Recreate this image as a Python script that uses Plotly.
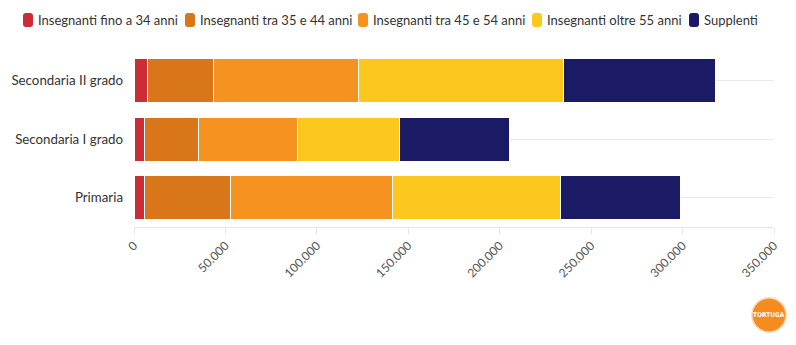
import plotly.graph_objects as go

categories = ["Primaria", "Secondaria I grado", "Secondaria II grado"]
series_names = [
    "Insegnanti fino a 34 anni",
    "Insegnanti tra 35 e 44 anni",
    "Insegnanti tra 45 e 54 anni",
    "Insegnanti oltre 55 anni",
    "Supplenti",
]
fino_34 = [5600, 5800, 7600]
tra_35_44 = [47000, 29700, 36100]
tra_45_54 = [88600, 54000, 79300]
oltre_55 = [92200, 55900, 112100]
supplenti = [65200, 59800, 83100]
series_values = [fino_34, tra_35_44, tra_45_54, oltre_55, supplenti]
colors = ["#cc2d34", "#d87619", "#f59220", "#fdc81d", "#1b1a64"]
x_tickvals = [0, 50000, 100000, 150000, 200000, 250000, 300000, 350000]
x_ticktext = ["0", "50.000", "100.000", "150.000", "200.000", "250.000", "300.000", "350.000"]

W, H = 796, 345
ML, MR, MT, MB = 134, 22, 51, 118
PW, PH = W - ML - MR, H - MT - MB
FONT = "Lato, 'Open Sans', sans-serif"

fig = go.Figure()
for name, vals, col in zip(series_names, series_values, colors):
    fig.add_trace(go.Bar(
        y=categories, x=vals, name=name, orientation="h",
        marker=dict(color=col, line=dict(color="white", width=1)),
        showlegend=False,
    ))


def px_x(p):
    return (p - ML) / PW


def px_y(p):
    return (H - MB - p) / PH


def rounded_rect(x0, y0, x1, y1, r):
    X = px_x
    Y = px_y
    return (f"M {X(x0 + r)} {Y(y0)} L {X(x1 - r)} {Y(y0)} Q {X(x1)} {Y(y0)} {X(x1)} {Y(y0 + r)} "
            f"L {X(x1)} {Y(y1 - r)} Q {X(x1)} {Y(y1)} {X(x1 - r)} {Y(y1)} "
            f"L {X(x0 + r)} {Y(y1)} Q {X(x0)} {Y(y1)} {X(x0)} {Y(y1 - r)} "
            f"L {X(x0)} {Y(y0 + r)} Q {X(x0)} {Y(y0)} {X(x0 + r)} {Y(y0)} Z")


legend_x = [23, 185, 358, 532, 689]
shapes = []
annotations = []
for lx, name, col in zip(legend_x, series_names, colors):
    shapes.append(dict(type="path", xref="paper", yref="paper",
                       path=rounded_rect(lx, 13, lx + 10, 27, 3),
                       fillcolor=col, line=dict(width=0), layer="above"))
    annotations.append(dict(x=px_x(lx + 13), y=px_y(20), xref="paper", yref="paper",
                            text=name, showarrow=False, xanchor="left", yanchor="middle",
                            font=dict(family=FONT, size=13, color="#333333")))

# logo
shapes.append(dict(type="circle", xref="paper", yref="paper",
                   x0=px_x(752), x1=px_x(786), y0=px_y(298), y1=px_y(332),
                   fillcolor="#f68b1f", line=dict(color="#fbd3a8", width=1.5)))
annotations.append(dict(x=px_x(769), y=px_y(315), xref="paper", yref="paper",
                        text="<b>TORTUGA</b>", showarrow=False,
                        xanchor="center", yanchor="middle",
                        font=dict(family="'Liberation Sans Narrow', 'DejaVu Sans Condensed', sans-serif",
                                  size=6.5, color="white")))

fig.update_layout(
    barmode="stack",
    bargap=0.25,
    width=W, height=H,
    margin=dict(l=ML, r=MR, t=MT, b=MB, pad=0, autoexpand=False),
    paper_bgcolor="white", plot_bgcolor="white",
    font=dict(family=FONT, size=13, color="#333333"),
    shapes=shapes,
    annotations=annotations,
    xaxis=dict(
        range=[0, 350000], tickvals=x_tickvals, ticktext=x_ticktext,
        tickangle=-45, showgrid=False, zeroline=False,
        showline=True, linecolor="#e6e6e6", linewidth=1,
        ticks="outside", ticklen=6, tickcolor="#e6e6e6",
        tickfont=dict(family=FONT, size=12, color="#555555"),
        automargin=False,
    ),
    yaxis=dict(
        categoryorder="array", categoryarray=categories,
        showgrid=True, gridcolor="#e9e9e9", gridwidth=1,
        zeroline=False, showline=False, ticks="", ticklabelstandoff=10,
        tickfont=dict(family=FONT, size=13.3, color="#333333"),
        automargin=False,
    ),
)

fig.write_html("out.html")
